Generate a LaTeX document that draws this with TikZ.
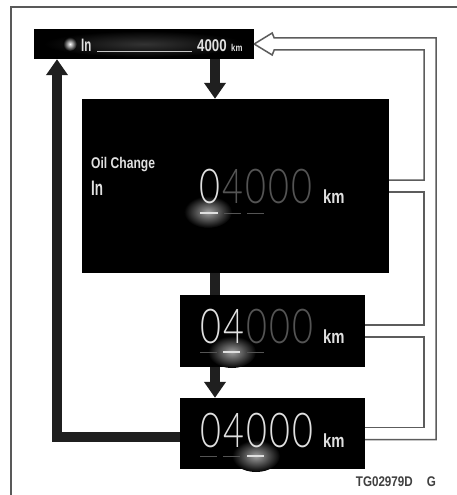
\documentclass[tikz,border=0pt]{standalone}
\usepackage{fontspec}
\usepackage{tikz}
\usetikzlibrary{arrows.meta, positioning, calc}
\newfontfamily\narrowfont[FakeStretch=0.78]{Liberation Sans}
\newfontfamily\condfont[FakeStretch=0.64]{Liberation Sans}
\newfontfamily\codefont[FakeStretch=0.83]{Liberation Sans}
\newfontfamily\digitfont[FakeStretch=0.75]{Lato Light}
\definecolor{litdigit}{gray}{0.88}
\definecolor{dimdigit}{gray}{0.33}
\definecolor{tubegray}{gray}{0.36}
\newcommand{\dgt}[1]{\makebox[23pt]{#1}}
\newcommand{\dimd}[1]{\dgt{\color{dimdigit}#1}}

\begin{document}
\begin{tikzpicture}[x=1pt, y=-1pt,
  panel/.style={fill=black, inner sep=0pt},
  fat/.style={line width=10pt, draw=black!88},
  fatarrow/.style={fat, -{Triangle[width=21pt, length=16pt]}},
  tube/.style={draw=tubegray, line width=1.5pt},
  paneltext/.style={inner sep=0pt, anchor=base west, text=litdigit, font=\narrowfont\bfseries\fontsize{15.5}{15.5}\selectfont},
  bignum/.style={inner sep=0pt, anchor=base west, text=litdigit, font=\digitfont\fontsize{48}{48}\selectfont},
  unit/.style={paneltext, font=\narrowfont\bfseries\fontsize{19}{19}\selectfont},
  lit/.style={draw=litdigit, line width=2.2pt},
  dim/.style={draw=dimdigit, line width=1pt}
]
\useasboundingbox[fill=white] (0,0) rectangle (457,495);
\draw[draw=gray!70!black, line width=1.2pt] (457,7) -- (11,7) -- (11,495);

\coordinate (spine) at (215,0);
\coordinate (rail) at (57,0);
\coordinate (inner) at (424,0);
\coordinate (outer) at (436,0);

% the four displays
\node[panel, minimum width=220pt, minimum height=30pt] (inbar) at (144,44) {};
\node[panel, minimum width=307pt, minimum height=174pt] (oilbox) at (235.5,186) {};
\node[panel, minimum width=185pt, minimum height=72pt] (midbox) at (272.5,331) {};
\node[panel, minimum width=185pt, minimum height=71pt] (lowbox) at (272.5,433.5) {};

% glow
\shade[inner color=black!80, outer color=black] (inbar.center) ellipse [x radius=100pt, y radius=13pt];
\shade[inner color=white, outer color=black] (70,44) circle [radius=7pt];
\shade[inner color=gray!75, outer color=black] (208,212) ellipse [x radius=24pt, y radius=16pt];
\shade[inner color=gray!75, outer color=black] (232,352) ellipse [x radius=24pt, y radius=16pt];
\shade[inner color=gray!75, outer color=black] (256,456) ellipse [x radius=24pt, y radius=16pt];

% top bar
\node[paneltext, font=\condfont\bfseries\fontsize{18}{18}\selectfont] (inword) at (81,52) {In};
\draw[draw=gray!45, line width=1pt] (97,52) -- (192,52);
\node[paneltext, font=\narrowfont\bfseries\fontsize{17}{17}\selectfont] (inkm) at (197,52) {4000};
\node[paneltext, font=\narrowfont\bfseries\fontsize{10}{10}\selectfont] (inunit) at (231,52) {km};

% oil change screen
\node[paneltext] (oilword) at (91,168) {Oil Change};
\node[paneltext, font=\condfont\bfseries\fontsize{21}{21}\selectfont] (oilin) at (91,195) {In};
\node[bignum] (oilnum) at (198,203) {\dgt{0}\dimd{4}\dimd{0}\dimd{0}\dimd{0}};
\node[unit] (oilunit) at (323,203) {km};
\draw[lit] (200,213) -- (218,213);
\draw[dim] (224,213) -- (241,213) (247,213) -- (264,213);

% second digit
\node[bignum] (midnum) at (199,343) {\dgt{0}\dgt{4}\dimd{0}\dimd{0}\dimd{0}};
\node[unit] (midunit) at (323,343) {km};
\draw[dim] (200,352) -- (217,352) (247,352) -- (264,352);
\draw[lit] (223,352) -- (240,352);

% third digit
\node[bignum] (lownum) at (199,447) {\dgt{0}\dgt{4}\dgt{0}\dgt{0}\dgt{0}};
\node[unit] (lowunit) at (323,447) {km};
\draw[dim] (200,456) -- (217,456) (223,456) -- (240,456);
\draw[lit] (247,456) -- (264,456);

% arrows
\draw[fatarrow] (inbar.south -| spine) -- (oilbox.north -| spine);
\draw[fat] (oilbox.south -| spine) -- (midbox.north -| spine);
\draw[fatarrow] (midbox.south -| spine) -- (lowbox.north -| spine);
\draw[fatarrow] ([yshift=-3pt]lowbox.west) -| (inbar.south -| rail);

% hollow return arrow
\draw[tube] (inbar.east) -- ++(18,-11) -- ++(2,5) -| ([yshift=-6pt]lowbox.east -| outer) -- ([yshift=-6pt]lowbox.east);
\draw[tube] (inbar.east) -- ++(18,11) -- ++(2,-5) -| ([yshift=6pt]oilbox.east -| inner) -- ([yshift=6pt]oilbox.east);
\draw[tube] ([yshift=-6pt]oilbox.east) -| ([yshift=6pt]midbox.east -| inner) -- ([yshift=6pt]midbox.east);
\draw[tube] ([yshift=-6pt]midbox.east) -| ([yshift=6pt]lowbox.east -| inner) -- ([yshift=6pt]lowbox.east);

\node[anchor=base east, inner sep=0pt, text=black!75, font=\codefont\bfseries\fontsize{14}{14}\selectfont] (figcode) at (436,486) {TG02979D\hspace{14pt}G};
\end{tikzpicture}
\end{document}
